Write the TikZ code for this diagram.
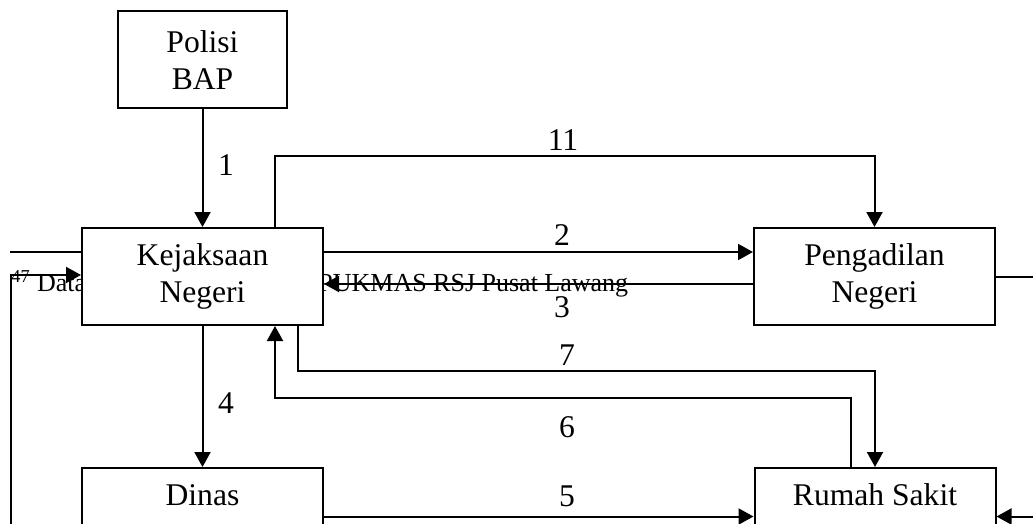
\documentclass[tikz,border=0pt]{standalone}
\usepackage{fontspec}
\setmainfont{Liberation Serif}
\usetikzlibrary{arrows.meta}
\newcommand{\Unit}{0.5pt}
\newcommand{\Edge}{1pt}
\newcommand{\BoxFont}{\fontsize{15.8}{18.5}\selectfont}
\newcommand{\NoteFont}{\fontsize{13}{15}\selectfont}
\definecolor{ink}{HTML}{000000}

\begin{document}
\begin{tikzpicture}[x=\Unit,y=-\Unit, line join=miter,
  agency/.style={draw=ink, fill=white, line width=\Edge, align=center, font=\BoxFont,
    minimum width=120.5pt, minimum height=48.5pt, inner sep=0pt},
  flow/.style={draw=ink, line width=\Edge, -{Triangle[length=7.5pt,width=8pt]}},
  wire/.style={draw=ink, line width=\Edge},
  num/.style={font=\BoxFont, inner sep=0pt}]

  \useasboundingbox (0,0) rectangle (1033,524);
  \clip (0,0) rectangle (1033,524);

  % ---- footnote that ran into the chart --------------------------------------
  \node[font=\NoteFont, anchor=base west, inner sep=0pt] (fnleft) at (11,291) {\textsuperscript{47} Data};
  \node[font=\NoteFont, anchor=base west, inner sep=0pt] (fnright) at (318,291) {PUKMAS RSJ Pusat Lawang};

  % ---- agencies -------------------------------------------------------------
  \node[agency, minimum width=84.5pt] (polisi) at (202.5,60) {Polisi\\BAP};
  \node[agency] (kejaksaan) at (202.5,276.5) {Kejaksaan\\Negeri};
  \node[agency] (pengadilan) at (874.5,276.5) {Pengadilan\\Negeri};
  % The lower two run off the page.
  \node[agency] (dinas) at (202.5,516.5) {Dinas\\\vphantom{Ng}};
  \node[agency] (rumahsakit) at (875,516.5) {Rumah Sakit\\\vphantom{Ng}};

  % ---- flows ----------------------------------------------------------------
  \draw[flow] (polisi) -- (kejaksaan);
  \draw[flow] (kejaksaan) -- (dinas);
  \draw[flow] ([yshift=12.25pt]kejaksaan.east) -- ([yshift=12.25pt]pengadilan.west);
  \draw[flow] ([yshift=-3.75pt]pengadilan.west) -- ([yshift=-3.75pt]kejaksaan.east);
  \draw[flow] (dinas) -- (rumahsakit);
  \draw[flow] ([xshift=36.25pt]kejaksaan.north) |- ([yshift=35.5pt]pengadilan.north) -- (pengadilan.north);
  \draw[flow] ([xshift=47.75pt]kejaksaan.south) |- ([yshift=48pt]rumahsakit.north) -- (rumahsakit.north);
  \draw[flow] ([xshift=-12pt]rumahsakit.north) |- ([xshift=36.25pt,yshift=-36pt]kejaksaan.south)
    -- ([xshift=36.25pt]kejaksaan.south);

  % ---- loose ends off the page ----------------------------------------------
  \coordinate (farleft) at (11,560);
  \coordinate (topleft) at (10,252);
  \coordinate (farright) at (1040,276);
  \draw[flow] (farleft) |- ([yshift=0.75pt]kejaksaan.west);
  \draw[wire] (topleft) -- (topleft -| kejaksaan.west);
  \draw[wire] (pengadilan.east) -- (pengadilan.east -| farright);
  \draw[flow] (rumahsakit.east -| farright) -- (rumahsakit.east);

  % ---- step numbers ---------------------------------------------------------
  \node[num] (n1) at (226,165) {1};
  \node[num] (n11) at (563,140) {11};
  \node[num] (n2) at (562,235) {2};
  \node[num] (n3) at (562,307) {3};
  \node[num] (n7) at (567,355) {7};
  \node[num] (n4) at (226,403) {4};
  \node[num] (n6) at (567,427) {6};
  \node[num] (n5) at (567,496) {5};

\end{tikzpicture}
\end{document}
